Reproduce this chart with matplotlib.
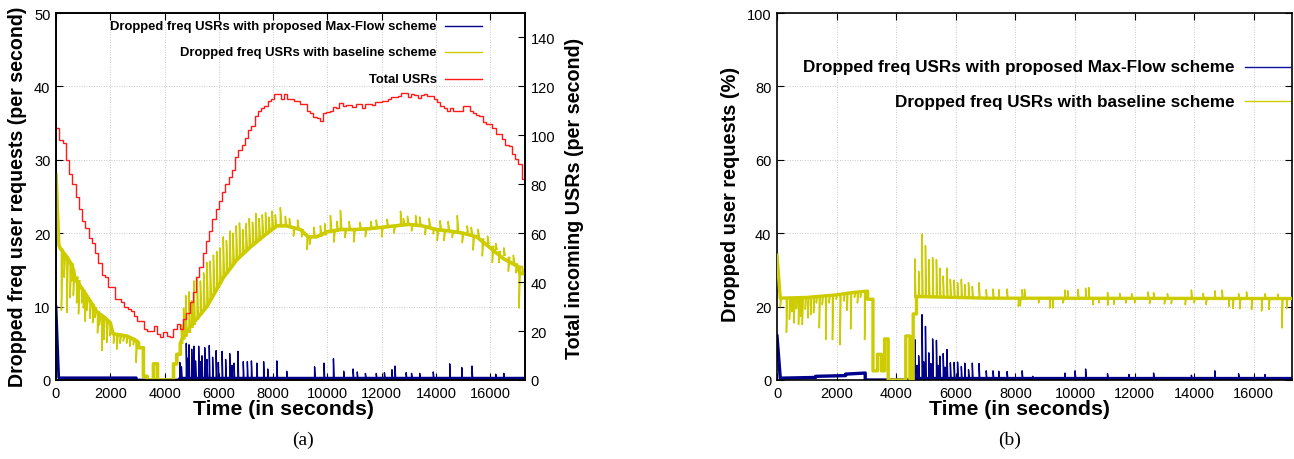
import numpy as np
import matplotlib
matplotlib.use("Agg")
import matplotlib.pyplot as plt

plt.rcParams['font.family'] = ['Liberation Sans', 'DejaVu Sans']

# ---------------- data ----------------
x_max = 17280
bin_width = 120
# Total USRs (per second), 120 s bins, right axis of panel (a)
total_usrs = [103, 98, 97, 90, 84, 80, 75, 70, 65, 62,
              58, 56, 52, 48, 43, 42, 38, 38, 33, 33,
              32, 30, 29, 28, 26, 24, 24, 21, 20, 20,
              22, 19, 17.5, 19.5, 18, 17.5, 21, 23, 21, 25,
              27.5, 32, 36, 42, 46, 52, 57, 61, 66, 70,
              73, 77, 80, 83, 86, 91, 94, 96, 99, 102,
              104, 108, 110, 111, 112, 114, 115, 117, 117, 115,
              117, 115, 115, 114, 114, 113, 113, 110, 109, 107.5,
              107, 106, 109, 109.5, 110, 111.5, 111, 113.3, 112, 112.4,
              112.4, 111.5, 113, 113, 111, 113, 113, 112.4, 113.8, 113.8,
              114, 114, 115, 115.6, 115.6, 116.2, 117.4, 117.4, 115.6, 117,
              116.5, 115.2, 116.5, 117, 116.2, 116.2, 115, 113.8, 112, 111,
              110, 111, 110, 110, 110, 112, 112, 110, 109, 108.5,
              108, 105.6, 104.7, 104.7, 103, 100.6, 100.6, 98.5, 96, 95.8,
              92.4, 90.3, 88.3, 82]

# Panel (a): baseline scheme, per second (band + spikes)
a_base_band_t = [0, 100, 150, 450, 600, 700, 950, 1250, 1500, 1800, 2000, 2100, 2600, 2900,
                 3040, 3040, 3220, 3220, 3360, 3360, 3590, 3590, 3740, 3740, 4330, 4330,
                 4450, 4450, 4580, 4580, 4700, 5000, 5560, 6175, 6667, 7160, 7650, 8143,
                 8500, 9000, 9300, 9600, 10000, 10500, 11000, 11500, 12000, 12500, 13000,
                 13500, 14000, 14500, 15000, 15500, 16000, 16500, 17000, 17100, 17280]
a_base_band_v = [28, 18.5, 18, 16.5, 15.5, 13.8, 12.5, 10.8, 9.3, 8.5, 7.8, 6.3, 6, 5.5,
                 5.1, 4.4, 4.4, 0.5, 0.5, 0, 0, 2.2, 2.2, 0, 0, 2.2,
                 2.2, 3.5, 3.5, 5, 6, 7.5, 10, 14, 16.4, 18.1, 19.6, 21,
                 21, 20.5, 19.5, 19.5, 20.2, 20.5, 20.5, 20.6, 20.8, 21, 21.2,
                 21, 20.5, 20.3, 20, 19.5, 18, 16.5, 15.5, 14.5, 14.5]
a_base_spk_t = [200, 300, 400, 520, 580, 640, 760, 830, 950, 1010, 1070, 1140, 1250, 1350,
                1440, 1530, 1600, 1690, 1760, 1870, 1990, 2120, 2240, 2360, 2480, 2600,
                2720, 2850, 2950,
                4620, 4700, 4780, 4900, 5000, 5080, 5200, 5320, 5440, 5560, 5680, 5800,
                5920, 6040, 6160, 6280, 6400, 6520, 6640, 6760, 6880, 7000, 7120, 7240,
                7360, 7480, 7600, 7720, 7840, 7960, 8080, 8266,
                8450, 8600, 8750, 8900, 9050, 9250, 9350, 9500, 9742, 9900, 10111, 10234,
                10350, 10480, 10650, 10800, 10972, 11200, 11400, 11600, 11800, 12000,
                12200, 12450, 12694, 12800, 12950, 13100, 13250, 13400, 13600, 13750,
                13900, 14047, 14150, 14300, 14450, 14600, 14785, 14969, 15150, 15300,
                15368, 15550, 15707, 15900, 16076, 16200, 16322, 16500, 16667, 16850,
                16950, 17061, 17180]
a_base_spk_lo = [17.8, 17.2, 16.8, 16, 15.8, 15, 14, 13.5, 12.5, 12.2, 11.8, 11.4, 10.8,
                 10.3, 9.8, 9.3, 9.0, 8.8, 8.6, 8.0, 7.2, 6.3, 6.2, 6.1, 6.0, 5.9,
                 5.8, 5.6, 5.4,
                 5.0, 5.6, 6.0, 6.5, 7.2, 7.6, 8.3, 9.0, 9.6, 10.2, 11.0, 11.8,
                 12.5, 13.2, 14.0, 14.6, 15.2, 15.8, 16.3, 16.8, 17.2, 17.7, 18.1, 18.6,
                 19.0, 19.4, 19.6, 20.0, 20.4, 20.8, 21.0, 21.0,
                 21.0, 20.8, 20.7, 20.6, 20.5, 19.6, 19.5, 19.5, 19.6, 19.8, 20.2, 20.2,
                 20.3, 20.4, 20.5, 20.5, 20.5, 20.5, 20.6, 20.6, 20.7, 20.8,
                 20.8, 20.9, 21.0, 21.1, 21.2, 21.2, 21.1, 21.1, 21.0, 20.9,
                 20.7, 20.5, 20.5, 20.4, 20.3, 20.3, 20.2, 20.0, 19.9, 19.8,
                 19.6, 19.5, 19.2, 18.6, 18.2, 17.8, 17.5, 17.0, 16.7, 16.0,
                 15.8, 15.5, 14.5]
a_base_spk_hi = [9.5, 14.0, 9.2, 11.2, 13.5, 11.5, 10.5, 9.0, 10.5, 9.8, 8.0, 9.5, 8.4,
                 7.8, 8.5, 6.4, 7.5, 4.0, 5.5, 5.1, 6.0, 5.0, 4.2, 5.0, 5.3, 5.0,
                 4.6, 4.8, 2.4,
                 7.5, 9.8, 11.5, 12.0, 10.8, 13.5, 14.0, 13.5, 14.6, 16.0, 16.2, 17.0,
                 17.5, 18.0, 19.5, 19.0, 20.3, 20.0, 21.0, 21.4, 20.5, 21.3, 22.0, 21.5,
                 22.7, 22.0, 22.5, 22.8, 22.2, 23.0, 22.5, 23.5,
                 22.3, 22.0, 19.6, 21.8, 19.5, 17.8, 18.5, 20.8, 21.0, 21.3, 22.4, 18.8,
                 21.6, 23.1, 19.4, 21.6, 18.8, 21.5, 19.5, 21.6, 21.8, 19.5,
                 21.9, 20.0, 23.0, 22.0, 22.3, 20.3, 22.4, 22.2, 19.8, 22.0,
                 19.9, 19.0, 21.7, 19.0, 21.6, 19.4, 22.4, 18.7, 21.0, 20.8,
                 17.7, 20.5, 16.9, 19.6, 16.0, 18.6, 16.0, 18.0, 14.8, 17.0,
                 14.6, 9.8, 15.5]

# Panel (a): proposed Max-Flow scheme, per second
a_prop_band_t = [0, 100, 2960, 2960, 4560, 4560, 17280]
a_prop_band_v = [10, 0.3, 0.3, 0, 0, 0.25, 0.25]
a_prop_level = 0.25
a_prop_spk_t = [4560, 4620, 4800, 4860, 4900, 5000, 5080, 5140, 5257, 5320, 5380, 5480,
                5560, 5647, 5770, 5900, 5980, 6120, 6250, 6400, 6480, 6560, 6704, 6900,
                7050, 7200, 7400, 7650, 7800, 8136, 8500, 9527, 9875, 10222, 10600,
                10946, 11100, 11400, 11800, 12100, 12378, 12490, 12900, 13100, 13400,
                13900, 14506, 14950, 15327, 16200, 16500]
a_prop_spk_v = [2.4, 1.8, 5.0, 3.0, 4.8, 4.2, 4.6, 2.6, 4.6, 2.5, 3.3, 4.4,
                2.8, 4.7, 3.1, 4.0, 2.4, 3.9, 2.8, 3.6, 2.0, 2.3, 3.9, 2.5,
                2.5, 2.6, 2.3, 2.5, 1.5, 2.6, 1.2, 1.8, 2.3, 2.9, 1.2,
                1.5, 1.1, 0.9, 0.9, 1.0, 1.4, 1.9, 1.0, 0.9, 0.9,
                1.1, 2.2, 1.7, 1.9, 0.8, 0.9]

# Panel (b): baseline scheme, percent
b_base_band_t = [0, 110, 1000, 2000, 2500, 2990, 3040, 3040, 3220, 3220, 3370, 3370, 3500,
                 3500, 3610, 3610, 3730, 3730, 4320, 4320, 4460, 4460, 4570, 4570, 4680,
                 4680, 5500, 7000, 17280]
b_base_band_v = [34, 22.3, 22.5, 23.2, 23.8, 24.2, 24.2, 22, 22, 2.5, 2.5, 7, 7,
                 2.5, 2.5, 11.2, 11.2, 0, 0, 12, 12, 0, 0, 18, 18,
                 22.8, 22.6, 22.3, 22.2]
b_base_spk_t = [112, 317, 418, 500, 570, 650, 722, 800, 849, 950, 1039, 1130, 1229, 1320,
                1419, 1520, 1634, 1750, 1862, 1990, 2116, 2250, 2350, 2471, 2600, 2700,
                2800, 2940,
                4626, 4753, 4867, 4981, 5095, 5222, 5349, 5463, 5577, 5703, 5817, 5944,
                6058, 6185, 6300, 6426, 6553, 6780, 7020, 7250, 7440, 7720, 8225, 8306,
                9660, 9754, 10101, 10355, 10460, 11090, 11500, 11900, 12451, 12636,
                13100, 13904, 14300, 14690, 14936, 15488, 15754, 16375, 16800,
                8100, 8160, 8777, 9150, 9249, 9600, 10600, 10800, 11093, 11300, 11700,
                12000, 12502, 13000, 13232, 13700, 14000, 14400, 15160, 15300, 15530,
                15923, 16260, 16507, 16945, 17100]
b_base_spk_lo = [22.3, 22.3, 22.3, 22.3, 22.3, 22.4, 22.4, 22.4, 22.4, 22.5, 22.6, 22.6,
                 22.7, 22.7, 22.8, 22.8, 22.9, 23.0, 23.1, 23.2, 23.3, 23.4, 23.5, 23.7,
                 23.8, 23.9, 24.0, 24.1,
                 22.5, 22.5, 22.5, 22.5, 22.5, 22.5, 22.5, 22.5, 22.5, 22.5, 22.5, 22.5,
                 22.5, 22.5, 22.5, 22.5, 22.5, 22.5, 22.3, 22.3, 22.3, 22.3, 22.2, 22.2,
                 22.2, 22.2, 22.2, 22.2, 22.2, 22.2, 22.2, 22.2, 22.2, 22.2,
                 22.2, 22.2, 22.2, 22.2, 22.2, 22.2, 22.2, 22.2, 22.2,
                 22.2, 22.2, 22.2, 22.2, 22.2, 22.2, 22.2, 22.2, 22.2, 22.2, 22.2,
                 22.2, 22.2, 22.2, 22.2, 22.2, 22.2, 22.2, 22.2, 22.2, 22.2,
                 22.2, 22.2, 22.2, 22.2, 22.2]
b_base_spk_hi = [20, 13, 16.5, 18.6, 15.5, 19.4, 15.1, 17.3, 15.1, 19.3, 16.9, 17.8, 18.3,
                 21, 14.2, 20.5, 11, 21, 11, 22, 9.6, 21.5, 19, 13.9, 22.5, 21, 22.5, 11,
                 33.0, 29.6, 39.8, 36.6, 32.8, 33.3, 32.8, 30.5, 28.3, 30.5, 27.4, 27.2,
                 26.5, 27.4, 26.0, 26.5, 25.5, 26.5, 24.6, 24.8, 24.6, 24.8, 24.6, 24.7,
                 24.5, 24.3, 24.7, 25.0, 25.2, 23.8, 23.6, 23.5, 24.0, 23.8,
                 23.5, 24.5, 23.6, 24.3, 24.5, 23.5, 24.0, 23.5, 23.4,
                 20.1, 20.2, 21.0, 19.6, 19.6, 21.0, 20.5, 21.0, 20.4, 20.6, 21.0,
                 21.0, 20.8, 20.7, 20.8, 20.5, 21.0, 20.6, 20.0, 19.5, 19.4,
                 19.2, 18.8, 19.2, 14.2, 19.5]

# Panel (b): proposed Max-Flow scheme, percent
b_prop_band_t = [0, 110, 1300, 1300, 2300, 2300, 2960, 2960, 4600, 4600, 17280]
b_prop_band_v = [12, 0.5, 0.7, 1.0, 1.2, 1.6, 1.9, 0, 0, 0.4, 0.4]
b_prop_level = 0.4
b_prop_spk_t = [4626, 4700, 4753, 4867, 4920, 4981, 5095, 5160, 5222, 5349, 5400, 5463,
                5577, 5640, 5703, 5817, 5944, 6058, 6185, 6300, 6426, 6553, 6780, 7020,
                7250, 7440, 7720, 8225, 8580, 9660, 10000, 10355, 11090, 11810, 12636,
                13904, 14690, 15488, 16375]
b_prop_spk_v = [11.0, 4.0, 6.6, 17.8, 5.0, 14.6, 7.4, 4.5, 11.2, 10.8, 4.0, 6.5,
                7.2, 3.5, 8.3, 4.7, 4.8, 4.9, 3.7, 4.6, 2.8, 4.6, 4.5, 2.5,
                2.5, 2.4, 2.3, 2.5, 1.0, 1.9, 2.5, 3.0, 1.7, 1.5, 1.9,
                1.3, 2.5, 1.7, 1.5]

x_ticks = [0, 2000, 4000, 6000, 8000, 10000, 12000, 14000, 16000]
leg_prop = "Dropped freq USRs with proposed Max-Flow scheme"
leg_base = "Dropped freq USRs with baseline scheme"
leg_total = "Total USRs"

# ---------------- style ----------------
C_BLUE = "#00008b"
C_YEL = "#cccc00"
C_RED = "#ff1a1a"
GRID = dict(color="#b8b8b8", linestyle=(0, (1, 2)), linewidth=0.6)


def spike_path(t, lo, hi, w):
    xs, ys = [], []
    for ti, a, b in zip(t, lo, hi):
        xs += [ti, ti, ti + w, np.nan]
        ys += [a, b, a, np.nan]
    return xs, ys


def style_axes(ax, ymax, ystep, mirror_y=True):
    ax.set_xlim(0, x_max)
    ax.set_ylim(0, ymax)
    ax.set_xticks(x_ticks)
    ax.set_yticks(np.arange(0, ymax + 0.1, ystep))
    ax.tick_params(direction="in", length=5, width=0.8, labelsize=10.5,
                   top=True, right=mirror_y, pad=4)
    ax.grid(True, **GRID)
    for s in ax.spines.values():
        s.set_linewidth(1.2)


fig = plt.figure(figsize=(12.94, 4.6), dpi=100)
W, H = 1294, 460


def rect(l, r, t, b):
    return [l / W, 1 - b / H, (r - l) / W, (b - t) / H]


# ---------- panel (a) ----------
ax = fig.add_axes(rect(56, 525, 14, 381))
style_axes(ax, 50, 10, mirror_y=False)
ax.plot(a_prop_band_t, a_prop_band_v, color=C_BLUE, lw=2.0, zorder=2)
xs, ys = spike_path(a_prop_spk_t, [a_prop_level] * len(a_prop_spk_t), a_prop_spk_v, 25)
ax.plot(xs, ys, color=C_BLUE, lw=1.0, zorder=2)
ax.plot(a_base_band_t, a_base_band_v, color=C_YEL, lw=2.6, zorder=3)
xs, ys = spike_path(a_base_spk_t, a_base_spk_lo, a_base_spk_hi, 50)
ax.plot(xs, ys, color=C_YEL, lw=1.1, zorder=3)

ax2 = ax.twinx()
ax2.set_ylim(0, 150)
ax2.set_yticks(np.arange(0, 141, 20))
ax2.tick_params(direction="in", length=5, width=0.8, labelsize=10.5, pad=4)
edges = np.arange(0, x_max + 1, bin_width)
ax2.stairs(total_usrs, edges, baseline=None, color=C_RED, lw=1.0)
for s in ax2.spines.values():
    s.set_linewidth(1.2)

fig.text(283 / W, 1 - 410 / H, "Time (in seconds)", ha="center", va="center",
         fontsize=15.3, fontweight="bold")
fig.text(18 / W, 1 - 197 / H, "Dropped freq user requests (per second)", ha="center",
         va="center", rotation=90, fontsize=14.1, fontweight="bold")
fig.text(575 / W, 1 - 198 / H, "Total incoming USRs (per second)", ha="center",
         va="center", rotation=90, fontsize=14.2, fontweight="bold")

# legend (a)
for yy, lab, col in [(0.965, leg_prop, C_BLUE), (0.894, leg_base, C_YEL), (0.820, leg_total, C_RED)]:
    ax2.text(0.812, yy, lab, transform=ax2.transAxes, ha="right", va="center",
             fontsize=9.4, fontweight="bold")
    ax2.plot([0.829, 0.908], [yy, yy], transform=ax2.transAxes, color=col, lw=1.0)

# ---------- panel (b) ----------
bx = fig.add_axes(rect(777, 1292, 14, 381))
style_axes(bx, 100, 20, mirror_y=True)
bx.plot(b_prop_band_t, b_prop_band_v, color=C_BLUE, lw=2.4, zorder=2)
xs, ys = spike_path(b_prop_spk_t, [b_prop_level] * len(b_prop_spk_t), b_prop_spk_v, 25)
bx.plot(xs, ys, color=C_BLUE, lw=1.0, zorder=2)
bx.plot(b_base_band_t, b_base_band_v, color=C_YEL, lw=2.4, zorder=3)
xs, ys = spike_path(b_base_spk_t, b_base_spk_lo, b_base_spk_hi, 30)
bx.plot(xs, ys, color=C_YEL, lw=1.1, zorder=3)

fig.text(1019 / W, 1 - 410 / H, "Time (in seconds)", ha="center", va="center",
         fontsize=15.3, fontweight="bold")
fig.text(731 / W, 1 - 194 / H, "Dropped user requests (%)", ha="center",
         va="center", rotation=90, fontsize=14.4, fontweight="bold")

for yy, lab, col in [(0.853, leg_prop, "#1010a0"), (0.760, leg_base, C_YEL)]:
    bx.text(0.889, yy, lab, transform=bx.transAxes, ha="right", va="center",
            fontsize=12.3, fontweight="bold")
    bx.plot([0.909, 0.996], [yy, yy], transform=bx.transAxes, color=col, lw=1.0)

fig.text(303 / W, 1 - 440 / H, "(a)", ha="center", va="center", fontsize=14,
         family="Liberation Serif")
fig.text(1010 / W, 1 - 440 / H, "(b)", ha="center", va="center", fontsize=14,
         family="Liberation Serif")

fig.savefig("out.png", dpi=100)
